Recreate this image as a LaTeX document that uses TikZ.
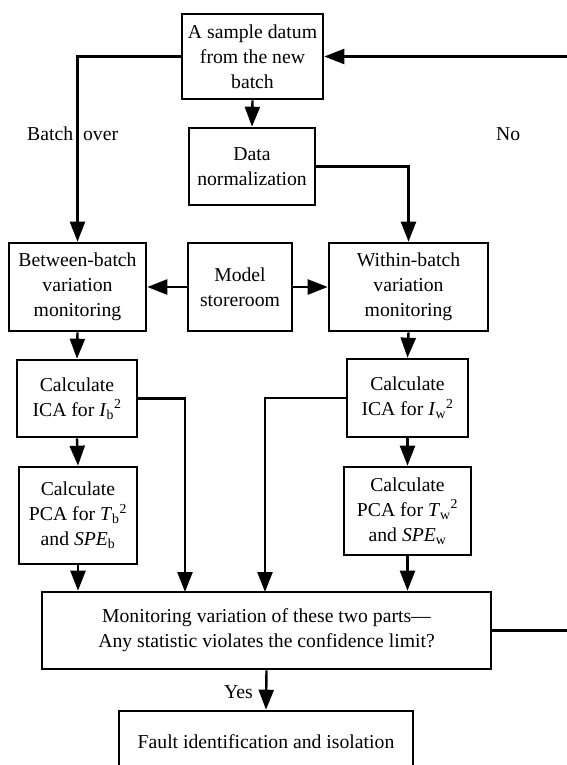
\documentclass[tikz,border=0pt]{standalone}
\usepackage{fontspec}
\setmainfont{Liberation Serif}
\usetikzlibrary{arrows.meta}
\tikzset{
  box/.style={draw, line width=2.6pt, inner sep=0pt, align=center, font=\fontsize{19.7}{25}\selectfont},
  arr/.style={line width=2.4pt, -{Triangle[length=20pt,width=15pt]}},
  lbl/.style={inner sep=0pt, font=\fontsize{19.7}{25}\selectfont}
}
\newcommand{\Ib}{\textit{I}\textsubscript{b}\textsuperscript{2}}
\newcommand{\Iw}{\textit{I}\textsubscript{w}\textsuperscript{2}}
\newcommand{\Tb}{\textit{T}\textsubscript{b}\textsuperscript{2}}
\newcommand{\Tw}{\textit{T}\textsubscript{w}\textsuperscript{2}}
\begin{document}
\begin{tikzpicture}[x=1pt,y=-1pt]
\useasboundingbox (0,0) rectangle (566,765);
\node[box, minimum width=141pt, minimum height=85pt] (top) at (252.5,56.5) {A sample datum\\from the new\\batch};
\node[box, minimum width=126pt, minimum height=77pt] (data) at (252,166.5) {Data\\normalization};
\node[box, minimum width=137pt, minimum height=88pt] (betw) at (77.5,287) {Between-batch\\variation\\monitoring};
\node[box, minimum width=104pt, minimum height=88pt] (model) at (240,287) {Model\\storeroom};
\node[box, minimum width=159pt, minimum height=88pt] (with) at (408.5,287) {Within-batch\\variation\\monitoring};
\node[box, minimum width=120pt, minimum height=77pt] (icab) at (77,398.5) {Calculate\\ICA for \Ib};
\node[box, minimum width=118pt, minimum height=97pt] (pcab) at (78,515.5) {Calculate\\PCA for \Tb\\and \textit{SPE}\textsubscript{b}};
\node[box, minimum width=121pt, minimum height=78pt] (icaw) at (407.5,398) {Calculate\\ICA for \Iw};
\node[box, minimum width=127pt, minimum height=88pt] (pcaw) at (407.5,511) {Calculate\\PCA for \Tw\\and \textit{SPE}\textsubscript{w}};
\node[box, minimum width=449pt, minimum height=77pt] (mon) at (266.5,630.5) {Monitoring variation of these two parts---\\Any statistic violates the confidence limit?};
\node[box, minimum width=294pt, minimum height=62pt] (fault) at (266,742) {Fault identification and isolation};

\coordinate (rt) at (620,56.5);
\coordinate (m1) at (185,592);
\coordinate (m2) at (265,592);

\draw[arr] (top.west) -| (betw.north);
\draw[arr] (mon.east) -| (rt) -- (top.east);
\draw[arr] (top.south) -- (data.north);
\draw[arr] (data.east) -| (with.north);
\draw[arr] (model.west) -- (betw.east);
\draw[arr] (model.east) -- (with.west);
\draw[arr] (betw.south) -- (icab.north);
\draw[arr] (icab.south) -- (pcab.north);
\draw[arr] (pcab.south) -- (pcab.south |- mon.north);
\draw[arr] (icab.east) -| (m1);
\draw[arr] (with.south) -- (icaw.north);
\draw[arr] (icaw.south) -- (pcaw.north);
\draw[arr] (pcaw.south) -- (pcaw.south |- mon.north);
\draw[arr] (icaw.west) -| (m2);
\draw[arr] (mon.south) -- (fault.north);

\node[lbl, anchor=base west] (bo) at (27,140) {Batch\hspace{10pt}over};
\node[lbl, anchor=base west] (no) at (496,140) {No};
\node[lbl, anchor=base east] (yes) at (253,698) {Yes};
\end{tikzpicture}
\end{document}
